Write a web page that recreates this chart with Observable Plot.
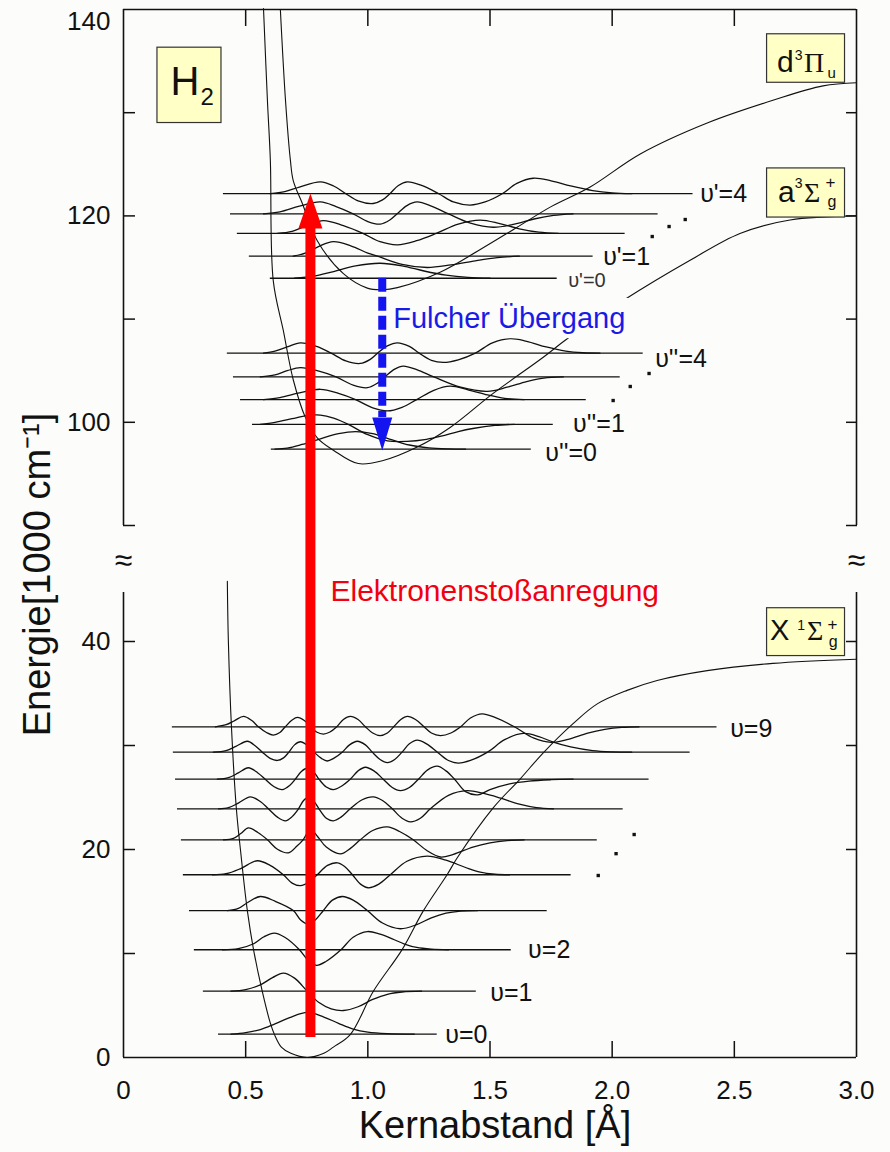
<!DOCTYPE html>
<html><head><meta charset="utf-8">
<script src="https://cdn.jsdelivr.net/npm/d3@7"></script>
<script src="https://cdn.jsdelivr.net/npm/@observablehq/plot@0.6"></script>
<style>
html,body{margin:0;padding:0;background:#fcfcfa;}
#chart{width:890px;height:1152px;}
</style></head><body><div id="chart"></div>
<script>
// ---------------- axes ----------------
const xTickValues = [0.5, 1.0, 1.5, 2.0, 2.5];
const xLabelValues = [0, 0.5, 1.0, 1.5, 2.0, 2.5, 3.0];
const yTickValues = [10, 20, 30, 40, 90, 100, 110, 120, 130];
const yLabelValues = [0, 20, 40, 100, 120];
const yTopLabel = [140];
const xTitle = "Kernabstand [Å]";
const yTitle = "Energie[1000 cm⁻¹]";
const lowerPanel = [{y1: 0, y2: 44.7}];
const upperPanel = [{y1: 90, y2: 140}];

// ---------------- potential curves [R (Å), E (1000 cm-1)] ----------------
const groundPotential = [[0.425,45.8],[0.429,40.2],[0.442,31.7],[0.462,23.9],[0.479,19.9],[0.507,14.1],[0.532,10.4],[0.568,6.35],[0.601,3.3],[0.618,2.2],[0.646,1.0],[0.685,0.4],[0.752,0.0],[0.82,0.4],[0.859,1.0],[0.928,2.2],[1.022,6.35],[1.141,10.4],[1.227,14.1],[1.325,17.6],[1.366,19.2],[1.513,24.0],[1.624,26.8],[1.718,29.3],[1.84,32.1],[1.939,34.0],[2.061,35.3],[2.184,36.25],[2.389,37.2],[2.658,37.9],[3.0,38.3]];
const dPotential = [[0.642,140.0],[0.663,131.2],[0.683,125.4],[0.695,123.4],[0.732,121.2],[0.793,117.6],[0.90,114.4],[0.998,113.0],[1.06,112.85],[1.121,113.05],[1.30,114.6],[1.45,116.6],[1.611,118.9],[1.75,120.9],[1.91,122.8],[2.115,126.0],[2.389,129.0],[2.658,131.2],[2.863,132.6],[3.0,132.9]];
const aPotential = [[0.573,140.1],[0.589,131.2],[0.601,125.4],[0.613,113.7],[0.654,108.9],[0.695,104.1],[0.744,100.5],[0.793,98.5],[0.859,97.3],[0.961,96.0],[1.063,96.3],[1.202,97.6],[1.337,99.5],[1.513,102.8],[1.718,106.3],[1.816,108.1],[2.045,111.8],[2.319,115.7],[2.523,118.3],[2.728,119.6],[3.0,120.0]];

// ---------------- X state levels v=0..9 ----------------
const groundE = [2.24, 6.38, 10.36, 14.13, 17.57, 20.93, 23.91, 26.76, 29.36, 31.80];
const groundFrom = [0.389, 0.327, 0.290, 0.270, 0.245, 0.237, 0.221, 0.213, 0.204, 0.200];
const groundTo = [1.284, 1.444, 1.587, 1.734, 1.832, 1.939, 2.045, 2.151, 2.319, 2.429];
const groundPsi = [
 [[0.44,0],[0.50,0.15],[0.56,0.45],[0.62,1.0],[0.68,1.6],[0.753,2.1],[0.82,1.65],[0.88,1.05],[0.94,0.5],[1.00,0.2],[1.08,0.05],[1.19,0]],
 [[0.44,0],[0.50,0.15],[0.56,0.6],[0.61,1.3],[0.654,1.73],[0.70,1.25],[0.752,0],[0.80,-1.1],[0.85,-1.7],[0.90,-1.86],[0.96,-1.5],[1.02,-0.8],[1.08,-0.3],[1.14,-0.08],[1.22,0]],
 [[0.405,0],[0.47,0.1],[0.53,0.55],[0.575,1.25],[0.617,1.6],[0.66,1.2],[0.72,0],[0.755,-1.0],[0.79,-1.5],[0.83,-1.1],[0.89,0],[0.94,1.2],[0.998,1.75],[1.05,1.5],[1.10,1.05],[1.15,0.55],[1.20,0.22],[1.26,0.06],[1.33,0]],
 [[0.425,0],[0.47,0.2],[0.51,0.8],[0.56,1.35],[0.62,0.9],[0.695,0],[0.725,-0.9],[0.753,-1.27],[0.785,-0.9],[0.818,0],[0.855,1.0],[0.896,1.35],[0.94,1.0],[0.998,0],[1.06,-1.2],[1.133,-1.75],[1.20,-1.35],[1.26,-0.7],[1.32,-0.25],[1.38,-0.05],[1.45,0]],
 [[0.364,0],[0.42,0.1],[0.48,0.6],[0.548,1.35],[0.60,0.9],[0.654,0],[0.69,-0.8],[0.724,-1.05],[0.76,-0.7],[0.793,0],[0.835,0.9],[0.875,1.15],[0.905,0.8],[0.937,0],[0.97,-0.9],[1.002,-1.25],[1.045,-0.9],[1.092,0],[1.16,1.3],[1.243,1.8],[1.32,1.4],[1.40,0.7],[1.46,0.25],[1.52,0.05],[1.58,0]],
 [[0.409,0],[0.45,0.15],[0.48,0.6],[0.511,1.15],[0.55,0.7],[0.589,0],[0.63,-0.9],[0.675,-1.25],[0.71,-0.6],[0.735,0],[0.765,1.0],[0.795,0.3],[0.83,-0.7],[0.888,-1.35],[0.93,-0.8],[0.969,0],[1.02,0.9],[1.08,1.25],[1.13,0.8],[1.186,0],[1.24,-1.0],[1.297,-1.65],[1.35,-1.4],[1.43,-0.7],[1.50,-0.3],[1.57,-0.08],[1.64,0]],
 [[0.389,0],[0.43,0.12],[0.47,0.55],[0.519,1.15],[0.56,0.7],[0.593,0],[0.63,-0.8],[0.663,-1.15],[0.69,-0.75],[0.716,0],[0.737,0.8],[0.757,1.1],[0.78,0.7],[0.80,0],[0.83,-0.9],[0.859,-1.15],[0.89,-0.8],[0.928,0],[0.975,0.85],[1.022,1.15],[1.06,0.8],[1.10,0],[1.14,-0.9],[1.174,-1.25],[1.215,-0.9],[1.256,0],[1.33,1.3],[1.407,1.75],[1.47,1.5],[1.54,1.05],[1.62,0.45],[1.69,0.12],[1.76,0]],
 [[0.384,0],[0.43,0.15],[0.47,0.6],[0.511,1.1],[0.55,0.6],[0.58,0],[0.615,-0.7],[0.65,-1.0],[0.68,-0.6],[0.703,0],[0.728,0.75],[0.753,1.05],[0.778,0.7],[0.80,0],[0.83,-0.75],[0.859,-1.0],[0.89,-0.7],[0.928,0],[0.96,0.8],[0.99,1.15],[1.025,0.8],[1.063,0],[1.10,-0.8],[1.133,-1.1],[1.17,-0.8],[1.207,0],[1.245,0.9],[1.284,1.25],[1.32,0.8],[1.355,0],[1.40,-1.2],[1.45,-1.5],[1.50,-1.0],[1.58,-0.45],[1.66,-0.18],[1.75,-0.05],[1.84,0]],
 [[0.368,0],[0.42,0.15],[0.46,0.55],[0.507,1.05],[0.54,0.6],[0.568,0],[0.60,-0.6],[0.63,-0.8],[0.655,-0.55],[0.677,0],[0.70,0.7],[0.724,1.0],[0.75,0.7],[0.78,0],[0.81,-0.6],[0.834,-0.85],[0.86,-0.6],[0.895,0],[0.925,0.7],[0.957,1.05],[0.99,0.7],[1.018,0],[1.05,-0.7],[1.08,-1.0],[1.11,-0.7],[1.14,0],[1.17,0.8],[1.202,1.15],[1.24,0.8],[1.285,0],[1.33,-0.8],[1.37,-1.05],[1.42,-0.8],[1.49,0],[1.56,1.2],[1.636,1.8],[1.70,1.5],[1.759,0.96],[1.83,0.5],[1.92,0.15],[2.0,0.03],[2.08,0]],
 [[0.376,0],[0.42,0.2],[0.455,0.6],[0.491,1.0],[0.525,0.6],[0.552,0],[0.585,-0.55],[0.613,-0.8],[0.64,-0.55],[0.662,0],[0.69,0.65],[0.712,0.9],[0.74,0.6],[0.765,0],[0.79,-0.5],[0.818,-0.7],[0.845,-0.5],[0.873,0],[0.90,0.7],[0.928,1.0],[0.96,0.7],[0.99,0],[1.02,-0.6],[1.051,-0.85],[1.08,-0.6],[1.106,0],[1.135,0.7],[1.162,1.0],[1.195,0.7],[1.23,0],[1.26,-0.6],[1.297,-0.85],[1.34,-0.6],[1.38,0],[1.42,0.85],[1.468,1.25],[1.52,0.9],[1.60,0],[1.68,-1.1],[1.75,-1.5],[1.82,-1.2],[1.90,-0.6],[1.97,-0.25],[2.04,-0.06],[2.11,0]]
];

// ---------------- d3Πu levels v'=0..4 ----------------
const dE = [113.96, 116.1, 118.3, 120.2, 122.15];
const dFrom = [0.601, 0.515, 0.466, 0.438, 0.409];
const dTo = [1.775, 1.922, 2.053, 2.188, 2.331];
const dPsi = [
 [[0.70,0],[0.78,0.2],[0.86,0.65],[0.95,1.2],[1.05,1.45],[1.14,1.2],[1.23,0.7],[1.32,0.3],[1.41,0.08],[1.50,0]],
 [[0.695,0],[0.75,0.35],[0.80,0.95],[0.859,1.4],[0.93,1.0],[1.0,0.3],[1.04,0],[1.14,-0.8],[1.243,-1.1],[1.34,-0.85],[1.44,-0.45],[1.53,-0.15],[1.62,0]],
 [[0.63,0],[0.69,0.2],[0.75,0.75],[0.818,1.25],[0.90,0.75],[0.98,0],[1.05,-0.8],[1.121,-1.1],[1.20,-0.7],[1.28,0],[1.37,0.9],[1.46,1.3],[1.54,0.95],[1.62,0.45],[1.70,0.12],[1.78,0]],
 [[0.573,0],[0.64,0.2],[0.72,0.75],[0.806,1.15],[0.87,0.7],[0.94,0],[1.0,-0.75],[1.051,-1.0],[1.09,-0.6],[1.12,0],[1.16,0.8],[1.202,1.15],[1.26,0.75],[1.33,0],[1.42,-0.9],[1.513,-1.3],[1.60,-1.0],[1.68,-0.5],[1.76,-0.15],[1.84,0]],
 [[0.601,0],[0.66,0.2],[0.72,0.65],[0.806,1.15],[0.86,0.75],[0.91,0],[0.96,-0.7],[1.022,-0.95],[1.06,-0.6],[1.09,0],[1.125,0.8],[1.162,1.15],[1.22,0.8],[1.29,0],[1.35,-0.8],[1.419,-1.1],[1.48,-0.8],[1.55,0],[1.61,1.0],[1.677,1.5],[1.75,1.25],[1.83,0.75],[1.92,0.3],[2.0,0.08],[2.08,0]]
];

// ---------------- a3Σg+ levels v''=0..4 ----------------
const aE = [97.4, 99.8, 102.2, 104.4, 106.7];
const aFrom = [0.605, 0.528, 0.479, 0.450, 0.425];
const aTo = [1.669, 1.759, 1.894, 2.033, 2.127];
const aPsi = [
 [[0.62,0],[0.67,0.1],[0.73,0.45],[0.806,1.0],[0.88,1.5],[0.95,1.7],[1.02,1.5],[1.10,0.9],[1.17,0.4],[1.25,0.12],[1.33,0.02],[1.40,0]],
 [[0.56,0],[0.62,0.2],[0.69,0.55],[0.75,0.85],[0.806,0.9],[0.86,0.6],[0.92,0],[1.0,-1.0],[1.08,-1.6],[1.16,-1.65],[1.24,-1.45],[1.30,-1.15],[1.37,-0.7],[1.43,-0.4],[1.52,-0.1],[1.60,0]],
 [[0.573,0],[0.64,0.2],[0.72,0.65],[0.806,1.0],[0.88,0.6],[0.95,0],[1.02,-0.8],[1.08,-1.1],[1.14,-0.75],[1.20,0],[1.27,0.9],[1.337,1.3],[1.41,0.95],[1.49,0.45],[1.56,0.12],[1.64,0]],
 [[0.56,0],[0.62,0.2],[0.67,0.6],[0.724,0.9],[0.80,0.55],[0.87,0],[0.94,-0.8],[0.998,-1.05],[1.04,-0.6],[1.07,0],[1.11,0.75],[1.145,1.05],[1.20,0.7],[1.27,0],[1.38,-1.0],[1.489,-1.4],[1.57,-1.0],[1.65,-0.45],[1.72,-0.12],[1.80,0]],
 [[0.573,0],[0.62,0.2],[0.67,0.6],[0.724,1.0],[0.79,0.65],[0.85,0],[0.91,-0.75],[0.969,-1.0],[1.01,-0.6],[1.04,0],[1.08,0.7],[1.121,1.0],[1.17,0.65],[1.21,0],[1.26,-0.7],[1.309,-0.9],[1.37,-0.65],[1.44,0],[1.51,1.0],[1.583,1.4],[1.65,1.15],[1.73,0.6],[1.81,0.2],[1.88,0.04],[1.95,0]]
];

// ---------------- annotations ----------------
const levelLabelText = ["υ=0", "υ=1", "υ=2", "υ=9", "υ'=4", "υ'=1", "υ''=4", "υ''=1", "υ''=0"];
const levelLabelX = [1.317, 1.501, 1.656, 2.483, 2.360, 1.963, 2.176, 1.84, 1.726];
const levelLabelY = [2.12, 6.25, 10.29, 31.54, 122.15, 115.97, 106.18, 99.79, 97.07];
const smallLabel = [{t: "υ'=0", x: 1.82, y: 113.74}];
const ellipsisX = [1.943, 2.016, 2.09, 2.004, 2.074, 2.151, 2.164, 2.233, 2.299];
const ellipsisY = [17.5, 19.6, 21.44, 102.11, 103.47, 104.73, 118.0, 118.97, 119.65];
const breakMarks = [{x: 0, y: 61.3}, {x: 3, y: 61.3}];
const stateBoxes = [
 {x1: 0.139, x2: 0.401, y1: 129.0, y2: 136.3},
 {x1: 2.634, x2: 2.953, y1: 132.9, y2: 137.6},
 {x1: 2.634, x2: 2.953, y1: 119.84, y2: 124.6},
 {x1: 2.634, x2: 2.953, y1: 38.6, y2: 43.2}
];
const boxSans = [
 {t: "H", x: 0.192, y: 131.67, s: 40}, {t: "2", x: 0.315, y: 130.70, s: 24},
 {t: "d", x: 2.675, y: 133.9, s: 30}, {t: "3", x: 2.747, y: 135.06, s: 14}, {t: "u", x: 2.881, y: 133.41, s: 15},
 {t: "a", x: 2.679, y: 121.3, s: 30}, {t: "3", x: 2.747, y: 122.66, s: 14}, {t: "+", x: 2.873, y: 122.66, s: 17}, {t: "g", x: 2.881, y: 120.9, s: 16},
 {t: "X", x: 2.646, y: 40.1, s: 29}, {t: "1", x: 2.757, y: 41.15, s: 14}, {t: "+", x: 2.881, y: 41.06, s: 17}, {t: "g", x: 2.886, y: 39.5, s: 16}
];
const boxSerif = [
 {t: "Π", x: 2.785, y: 133.9, s: 28}, {t: "Σ", x: 2.785, y: 121.3, s: 28}, {t: "Σ", x: 2.797, y: 40.1, s: 28}
];
const excitation = [{x: 0.765, from: 1.92, shaftEnd: 118.8, tip: 122.17}];
const fulcher = [{x: 1.059, from: 113.96, shaftEnd: 100.47, tip: 97.27}];
const fulcherText = [{t: "Fulcher Übergang", x: 1.104, y: 110.06}];
const fulcherTextBg = [{x1: 1.085, x2: 2.14, y1: 108.1, y2: 112.0}];
const excitationText = [{t: "Elektronenstoßanregung", x: 0.847, y: 44.8}];

// ---------------- build ----------------
const sans = "'Liberation Sans', Arial, Helvetica, sans-serif";
const serif = "'Liberation Serif', 'Times New Roman', serif";
const ink = "#111";
const bg = "#fcfcfa";

function waveRows(prefix, energies, psis) {
  return psis.flatMap((pts, i) => pts.map(([x, d]) => ({id: prefix + i, x, y: energies[i] + d})));
}
function levelRows(energies, from, to) {
  return energies.map((E, i) => ({E, x1: from[i], x2: to[i]}));
}
const levels = [...levelRows(groundE, groundFrom, groundTo), ...levelRows(dE, dFrom, dTo), ...levelRows(aE, aFrom, aTo)];
const waves = [...waveRows("X", groundE, groundPsi), ...waveRows("d", dE, dPsi), ...waveRows("a", aE, aPsi)];
const labels = levelLabelText.map((t, i) => ({t, x: levelLabelX[i], y: levelLabelY[i]}));
const dots = ellipsisX.map((x, i) => ({x, y: ellipsisY[i]}));

function triangleHead(halfWidth) {
  return {draw(context, l) { context.moveTo(-halfWidth, 0); context.lineTo(0, -l); context.lineTo(halfWidth, 0); context.closePath(); }};
}
const pot = (data) => Plot.line(data, {x: d => d[0], y: d => d[1], curve: "catmull-rom", stroke: ink, strokeWidth: 1.1});

const chart = Plot.plot({
  width: 890, height: 1152,
  marginLeft: 123, marginRight: 34, marginTop: 9, marginBottom: 95,
  x: {domain: [0, 3], range: [123, 856], label: null},
  y: {type: "linear", domain: [0, 46, 90, 140], range: [1057, 578.6, 525, 9], label: null},
  style: {background: bg, fontFamily: sans, color: ink},
  marks: [
    // frame
    Plot.ruleY([0, 140], {stroke: ink, strokeWidth: 1.6}),
    Plot.ruleX(lowerPanel, {x: 0, y1: "y1", y2: "y2", stroke: ink, strokeWidth: 1.6}),
    Plot.ruleX(lowerPanel, {x: 3, y1: "y1", y2: "y2", stroke: ink, strokeWidth: 1.6}),
    Plot.ruleX(upperPanel, {x: 0, y1: "y1", y2: "y2", stroke: ink, strokeWidth: 1.6}),
    Plot.ruleX(upperPanel, {x: 3, y1: "y1", y2: "y2", stroke: ink, strokeWidth: 1.6}),
    Plot.axisY(yTickValues, {anchor: "left", tickSize: -12, tickFormat: () => "", strokeWidth: 1.5, label: null}),
    Plot.axisY(yTickValues, {anchor: "right", tickSize: -11, tickFormat: () => "", strokeWidth: 1.5, label: null}),
    Plot.axisX(xTickValues, {anchor: "bottom", tickSize: -16, tickFormat: () => "", strokeWidth: 1.5, label: null}),
    Plot.axisX(xTickValues, {anchor: "top", tickSize: -16, tickFormat: () => "", strokeWidth: 1.5, label: null}),
    Plot.axisY(yLabelValues, {anchor: "left", tickSize: 0, tickPadding: 13, fontSize: 26, label: null}),
    Plot.axisY(yTopLabel, {anchor: "left", tickSize: 0, tickPadding: 13, fontSize: 26, dy: 12, label: null}),
    Plot.axisX(xLabelValues, {anchor: "bottom", tickSize: 0, tickPadding: 23, fontSize: 26, label: null,
      tickFormat: d => d === 0 ? "0" : d.toFixed(1)}),
    Plot.text([xTitle], {frameAnchor: "bottom", textAnchor: "middle", dx: 5, dy: 68, fontSize: 38, lineAnchor: "middle", fill: ink}),
    Plot.text([yTitle], {frameAnchor: "left", textAnchor: "middle", rotate: -90, dx: -86, dy: 41, fontSize: 38, lineAnchor: "middle", fill: ink}),
    Plot.text(breakMarks, {x: "x", y: "y", text: () => "≈", fontSize: 32, fill: ink}),
    // levels and wavefunctions
    Plot.ruleY(levels, {y: "E", x1: "x1", x2: "x2", stroke: ink, strokeWidth: 1.3}),
    Plot.line(waves, {x: "x", y: "y", z: "id", curve: "catmull-rom", stroke: ink, strokeWidth: 1.3}),
    // potentials
    pot(groundPotential), pot(dPotential), pot(aPotential),
    // labels
    Plot.text(labels, {x: "x", y: "y", text: "t", textAnchor: "start", lineAnchor: "middle", fontSize: 25, fill: ink}),
    Plot.text(smallLabel, {x: "x", y: "y", text: "t", textAnchor: "start", lineAnchor: "middle", fontSize: 20, fill: "#333"}),
    Plot.dot(dots, {x: "x", y: "y", symbol: "square", r: 1.9, fill: ink, stroke: "none"}),
    Plot.rect(stateBoxes, {x1: "x1", x2: "x2", y1: "y1", y2: "y2", fill: "#ffffc6", stroke: "#333", strokeWidth: 1.2}),
    Plot.text(boxSans, {x: "x", y: "y", text: "t", fontSize: "s", textAnchor: "start", lineAnchor: "bottom", fill: ink, fontFamily: sans}),
    Plot.text(boxSerif, {x: "x", y: "y", text: "t", fontSize: "s", textAnchor: "start", lineAnchor: "bottom", fill: ink, fontFamily: serif}),
    // transitions
    Plot.rect(fulcherTextBg, {x1: "x1", x2: "x2", y1: "y1", y2: "y2", fill: bg}),
    Plot.text(fulcherText, {x: "x", y: "y", text: "t", textAnchor: "start", lineAnchor: "middle", fontSize: 29, fill: "#1a1ae6"}),
    Plot.text(excitationText, {x: "x", y: "y", text: "t", textAnchor: "start", lineAnchor: "middle", fontSize: 30, fill: "#f00010"}),
    Plot.ruleX(excitation, {x: "x", y1: "from", y2: "shaftEnd", stroke: "#ff0000", strokeWidth: 10}),
    Plot.vector(excitation, {x: "x", y: "tip", length: 35, anchor: "end", shape: triangleHead(12), fill: "#ff0000", stroke: "none"}),
    Plot.ruleX(fulcher, {x: "x", y1: "from", y2: "shaftEnd", stroke: "#1414f0", strokeWidth: 8, strokeDasharray: "14,5"}),
    Plot.vector(fulcher, {x: "x", y: "tip", length: 33, rotate: 180, anchor: "end", shape: triangleHead(10), fill: "#1414f0", stroke: "none"})
  ]
});
document.getElementById("chart").appendChild(chart);
</script></body></html>
